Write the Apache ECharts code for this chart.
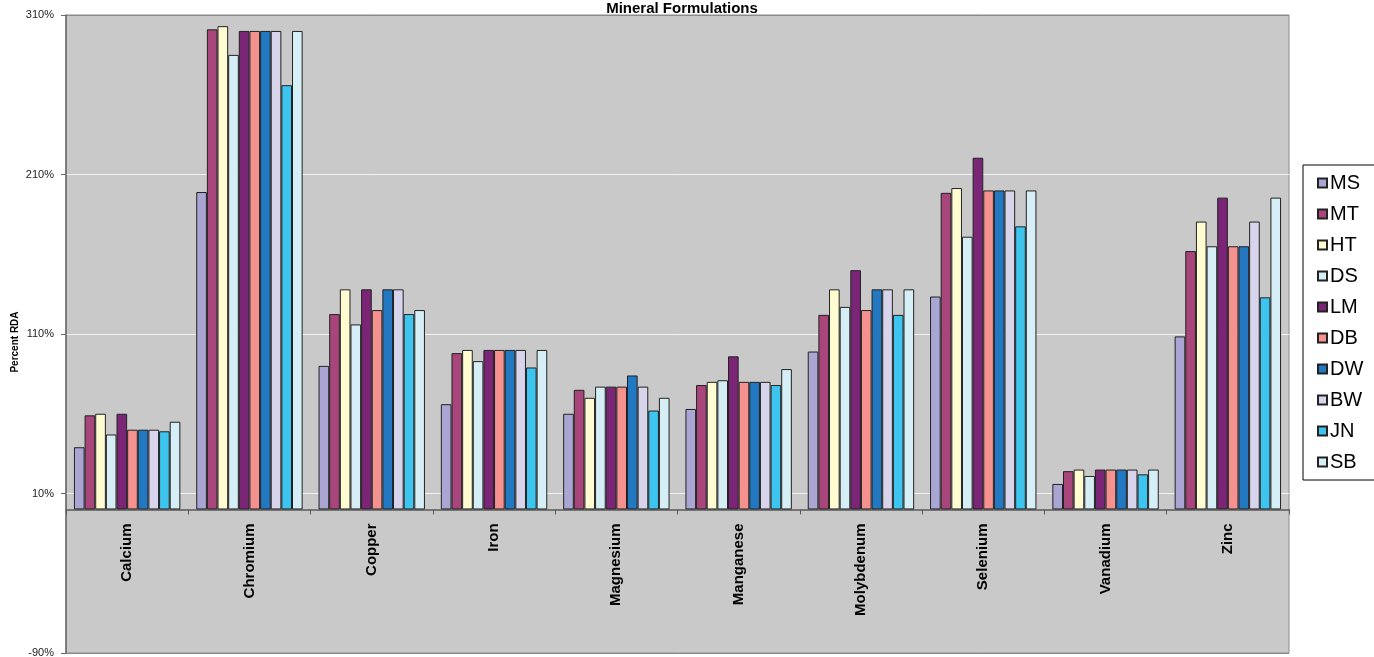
<!DOCTYPE html>
<html>
<head>
<meta charset="utf-8">
<script src="https://cdn.jsdelivr.net/npm/echarts@6/dist/echarts.min.js"></script>
<style>
html,body{margin:0;padding:0;background:#fff;}
#chart{width:1374px;height:657px;}
</style>
</head>
<body>
<div id="chart"></div>
<script>
const categories = ['Calcium','Chromium','Copper','Iron','Magnesium','Manganese','Molybdenum','Selenium','Vanadium','Zinc'];
const seriesNames = ['MS','MT','HT','DS','LM','DB','DW','BW','JN','SB'];
const MS = [39, 199, 90, 66, 60, 63, 99, 133.5, 16, 108.5];
const MT = [59, 301, 122.5, 98, 75, 78, 122, 198.5, 24, 162];
const HT = [60, 303, 138, 100, 70, 80, 138, 201.5, 25, 180.5];
const DS = [47, 285, 116, 93, 77, 81, 127, 171, 21, 165];
const LM = [60, 300, 138, 100, 77, 96, 150, 220.5, 25, 195.5];
const DB = [50, 300, 125, 100, 77, 80, 125, 200, 25, 165];
const DW = [50, 300, 138, 100, 84, 80, 138, 200, 25, 165];
const BW = [50, 300, 138, 100, 77, 80, 138, 200, 25, 180.5];
const JN = [49, 266, 122.5, 89, 62, 78, 122, 177.5, 22, 133];
const SB = [55, 300, 125, 100, 70, 88, 138, 200, 25, 195.5];
const yTickLabels = ['-90%','10%','110%','210%','310%'];

const seriesData = [MS, MT, HT, DS, LM, DB, DW, BW, JN, SB];
const colors = ['#A9A6D3','#A8457A','#FFFCD2','#D5EEF5','#7B2577','#F5918F','#2378C2','#D7D4EC','#3DC5EF','#D6EEF5'];

const chart = echarts.init(document.getElementById('chart'));
const FONT = 'Liberation Sans';
const gridTop = 15, gridBottom = 4, H = 657;
const plotH = H - gridTop - gridBottom;
const zeroOffset = plotH * (90 / 400); // distance from grid bottom to the 0% line

chart.setOption({
  animation: false,
  textStyle: { fontFamily: FONT },
  title: {
    text: 'Mineral Formulations',
    left: 677, top: -4, textAlign: 'center',
    textStyle: { fontSize: 15, fontWeight: 'bold', color: '#000', fontFamily: FONT }
  },
  grid: {
    left: 66, right: 85, top: gridTop, bottom: gridBottom,
    outerBoundsMode: 'none', containLabel: false,
    show: true, backgroundColor: '#C9C9C9', borderColor: '#8a8a8a', borderWidth: 1
  },
  legend: {
    orient: 'vertical',
    left: 1303, top: 165,
    icon: 'rect',
    itemWidth: 9, itemHeight: 9, itemGap: 11,
    padding: [8, 12, 8, 14],
    backgroundColor: '#fff', borderColor: '#000', borderWidth: 1,
    textStyle: { fontSize: 20, color: '#000', fontFamily: FONT, padding: [0,0,0,-2] },
    data: seriesNames
  },
  xAxis: [{
    type: 'category',
    data: categories,
    axisLine: { onZero: true, onZeroAxisIndex: 0, lineStyle: { color: '#5a5a5a', width: 1.5 } },
    axisTick: { show: true, length: 5, lineStyle: { color: '#5a5a5a' } },
    axisLabel: { show: false },
    splitLine: { show: false }
  }, {
    type: 'category',
    data: categories,
    position: 'bottom',
    offset: -zeroOffset,
    axisLine: { show: false, onZero: false },
    axisTick: { show: false },
    axisLabel: { rotate: 90, margin: 14, fontSize: 15, fontWeight: 'bold', color: '#000', fontFamily: FONT },
    splitLine: { show: false }
  }],
  yAxis: [
    { type: 'value', min: -90, max: 310, show: false, splitLine: { show: false } },
    {
      type: 'value', min: -100, max: 300, interval: 100, position: 'left',
      axisLine: { show: true, lineStyle: { color: '#6a6a6a', width: 1.5 } },
      axisTick: { show: true, length: 5, lineStyle: { color: '#6a6a6a' } },
      axisLabel: {
        formatter: function (v) { return yTickLabels[Math.round((v + 100) / 100)]; },
        fontSize: 11, color: '#222', margin: 12, fontFamily: FONT
      },
      splitLine: { show: true, lineStyle: { color: ['#8a8a8a','#f2f2f2','#f2f2f2','#f2f2f2','#8a8a8a'], width: 1 } }
    }
  ],
  graphic: [{
    type: 'text',
    x: 15, y: 342, rotation: Math.PI / 2,
    style: { text: 'Percent RDA', font: 'bold 10px ' + FONT, fill: '#000', textAlign: 'center', textVerticalAlign: 'middle' }
  }],
  series: seriesNames.map((name, i) => ({
    name: name,
    type: 'bar',
    xAxisIndex: 0,
    yAxisIndex: 0,
    data: seriesData[i],
    barGap: '0%',
    barCategoryGap: '13%',
    itemStyle: { color: colors[i], borderColor: '#222', borderWidth: 1 }
  }))
});
</script>
</body>
</html>
